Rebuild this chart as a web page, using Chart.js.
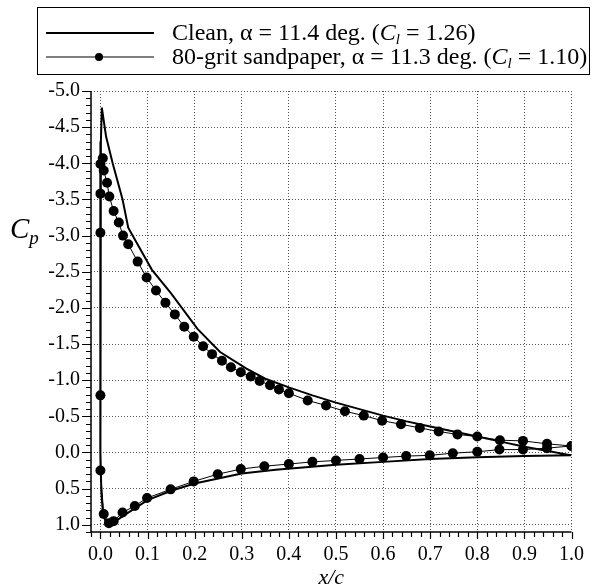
<!DOCTYPE html>
<html>
<head>
<meta charset="utf-8">
<script src="https://cdn.jsdelivr.net/npm/chart.js@4.4.1/dist/chart.umd.min.js"></script>
<style>
  html, body { margin: 0; padding: 0; background: #fff; }
  #wrap { width: 595px; height: 588px; }
</style>
</head>
<body>
<div id="wrap"><canvas id="cp"></canvas></div>
<script>
// ─── Data ─────────────────────────────────────────────────────────────────────

const X_TICKS = [0.0, 0.1, 0.2, 0.3, 0.4, 0.5, 0.6, 0.7, 0.8, 0.9, 1.0];
const Y_TICKS = [-5.0, -4.5, -4.0, -3.5, -3.0, -2.5, -2.0, -1.5, -1.0, -0.5, 0.0, 0.5, 1.0];

// clean airfoil: upper surface TE -> LE, then lower surface LE -> TE
const CLEAN_X  = [1.0, 0.95, 0.9, 0.85, 0.8, 0.75, 0.7, 0.65, 0.6, 0.55, 0.5, 0.45, 0.4, 0.35,
                  0.31, 0.254, 0.206, 0.15, 0.109, 0.059, 0.047, 0.026, 0.012, 0.003, 0.001,
                  0.0, 0.0, 0.002, 0.005, 0.01, 0.016, 0.03, 0.05, 0.1, 0.15, 0.2, 0.3, 0.372,
                  0.5, 0.6, 0.7, 0.8, 0.9, 1.0];
const CLEAN_CP = [0.04, -0.02, -0.08, -0.15, -0.22, -0.29, -0.36, -0.43, -0.51, -0.60, -0.69, -0.79, -0.90, -1.02,
                  -1.16, -1.39, -1.71, -2.20, -2.53, -3.11, -3.50, -4.00, -4.37, -4.77, -4.30,
                  -3.00, 0.00, 0.55, 0.82, 0.94, 1.00, 0.96, 0.87, 0.66, 0.53, 0.43, 0.29, 0.24,
                  0.17, 0.13, 0.09, 0.065, 0.05, 0.04];

// 80-grit sandpaper: same ordering
const GRIT_X  = [1.0, 0.948, 0.897, 0.848, 0.80, 0.758, 0.718, 0.678, 0.638, 0.598, 0.559, 0.519, 0.479, 0.44,
                 0.40, 0.379, 0.36, 0.338, 0.319, 0.298, 0.277, 0.258, 0.237, 0.218, 0.198, 0.178, 0.158,
                 0.138, 0.118, 0.098, 0.079, 0.059, 0.048, 0.039, 0.028, 0.019, 0.014, 0.007, 0.005,
                 0.0, 0.0, 0.0, 0.0, 0.0, 0.007, 0.018, 0.028, 0.047, 0.073, 0.099, 0.149, 0.198, 0.249,
                 0.298, 0.348, 0.40, 0.45, 0.50, 0.55, 0.60, 0.649, 0.699, 0.748, 0.80, 0.847, 0.897, 0.948, 1.0];
const GRIT_CP = [-0.09, -0.12, -0.16, -0.17, -0.22, -0.25, -0.29, -0.34, -0.39, -0.44, -0.51, -0.57, -0.65, -0.72,
                 -0.82, -0.87, -0.93, -0.99, -1.05, -1.11, -1.18, -1.27, -1.36, -1.47, -1.60, -1.74, -1.91,
                 -2.07, -2.24, -2.42, -2.64, -2.88, -3.00, -3.18, -3.34, -3.54, -3.73, -3.90, -4.07,
                 -3.99, -3.58, -3.04, -0.79, 0.25, 0.85, 0.98, 0.95, 0.83, 0.74, 0.63, 0.51, 0.40, 0.30,
                 0.23, 0.19, 0.16, 0.13, 0.11, 0.09, 0.07, 0.05, 0.04, 0.01, -0.01, -0.04, -0.04, -0.06, -0.09];

// ─── Styling ──────────────────────────────────────────────────────────────────

const SERIF = "'Liberation Serif','Times New Roman',serif";

const pts = (xs, ys) => xs.map((x, i) => ({ x, y: ys[i] }));

// legend rows: rich text parts
const LEGEND_ROWS = [
  { color: '#000', width: 2,   dot: false,
    parts: [['Clean, α = 11.4 deg. (', ''], ['C', 'i'], ['l', 'sub'], [' = 1.26)', '']] },
  { color: '#555', width: 1.5, dot: true,
    parts: [['80-grit sandpaper, α = 11.3 deg. (', ''], ['C', 'i'], ['l', 'sub'], [' = 1.10)', '']] },
];

function richText(ctx, parts, x, y, size) {
  for (const [txt, kind] of parts) {
    if (kind === 'i')        ctx.font = `italic ${size}px ${SERIF}`;
    else if (kind === 'sub') ctx.font = `italic ${Math.round(size * 0.62)}px ${SERIF}`;
    else                     ctx.font = `${size}px ${SERIF}`;
    ctx.fillText(txt, x, y + (kind === 'sub' ? size * 0.18 : 0));
    x += ctx.measureText(txt).width;
  }
  return x;
}

// ─── Plugin: axis lines, minor ticks, titles, legend box ─────────────────────

const decor = {
  id: 'decor',
  afterDraw(chart) {
    const { ctx, chartArea: a, scales: { x, y } } = chart;
    ctx.save();
    ctx.strokeStyle = '#000';
    ctx.fillStyle = '#000';

    // axis spines
    const xEnd = x.getPixelForValue(1.0);
    ctx.lineWidth = 1.5;
    ctx.beginPath();
    ctx.moveTo(a.left, a.top);
    ctx.lineTo(a.left, a.bottom);
    ctx.lineTo(xEnd, a.bottom);
    ctx.stroke();

    // ticks: y every 0.1 (major 0.5), x every 0.02 (major 0.1)
    ctx.lineWidth = 1.2;
    ctx.beginPath();
    for (let k = -50; k <= 11; k++) {
      const py = Math.round(y.getPixelForValue(k / 10)) + 0.5;
      const len = k % 5 === 0 ? 9 : 5;
      ctx.moveTo(a.left - len, py);
      ctx.lineTo(a.left, py);
    }
    for (let k = -1; k <= 50; k++) {
      const px = Math.round(x.getPixelForValue(k / 50)) + 0.5;
      const len = k % 5 === 0 ? 7 : 5;
      ctx.moveTo(px, a.bottom);
      ctx.lineTo(px, a.bottom + len);
    }
    ctx.stroke();

    // axis titles
    ctx.textAlign = 'left';
    ctx.textBaseline = 'alphabetic';
    ctx.font = `italic 29px ${SERIF}`;
    ctx.fillText('C', 10, 238);
    const cw = ctx.measureText('C').width;
    ctx.font = `italic 19px ${SERIF}`;
    ctx.fillText('p', 10 + cw, 244);

    ctx.font = `italic 22px ${SERIF}`;
    ctx.textAlign = 'center';
    ctx.fillText('x/c', (a.left + xEnd) / 2, 584);

    // legend box
    ctx.textAlign = 'left';
    ctx.lineWidth = 1;
    ctx.strokeRect(37.5, 7.5, 552, 67);
    LEGEND_ROWS.forEach((row, i) => {
      const ly = 33 + i * 24;
      ctx.strokeStyle = row.color;
      ctx.lineWidth = row.width;
      ctx.beginPath();
      ctx.moveTo(46, ly);
      ctx.lineTo(154, ly);
      ctx.stroke();
      if (row.dot) {
        ctx.beginPath();
        ctx.arc(99, ly, 4, 0, Math.PI * 2);
        ctx.fill();
      }
      richText(ctx, row.parts, 172, ly + 7, 24);
    });
    ctx.restore();
  },
};

// ─── Chart ────────────────────────────────────────────────────────────────────

new Chart(document.getElementById('cp'), {
  type: 'scatter',
  data: {
    datasets: [
      {
        label: 'Clean',
        data: pts(CLEAN_X, CLEAN_CP),
        showLine: true,
        borderColor: '#000',
        borderWidth: 2,
        pointRadius: 0,
        tension: 0,
      },
      {
        label: '80-grit sandpaper',
        data: pts(GRIT_X, GRIT_CP),
        showLine: true,
        borderColor: '#000',
        borderWidth: 1,
        backgroundColor: '#000',
        pointRadius: 5,
        pointBorderWidth: 0,
        tension: 0,
      },
    ],
  },
  options: {
    responsive: true,
    maintainAspectRatio: false,
    animation: false,
    layout: { padding: { top: 91, right: 13, left: 0, bottom: 0 } },
    plugins: { legend: { display: false }, tooltip: { enabled: false } },
    scales: {
      x: {
        type: 'linear',
        min: -0.02,
        max: 1.0,
        afterBuildTicks: s => { s.ticks = X_TICKS.map(v => ({ value: v })); },
        afterFit: s => { s.height = 56; },
        grid: { color: '#555', lineWidth: 1, drawTicks: false },
        border: { display: false, dash: [1, 2] },
        ticks: {
          padding: 11,
          color: '#000',
          maxRotation: 0,
          font: { family: SERIF, size: 20 },
          callback: v => v.toFixed(1),
        },
      },
      y: {
        type: 'linear',
        reverse: true,
        min: -5.0,
        max: 1.1,
        afterBuildTicks: s => { s.ticks = Y_TICKS.map(v => ({ value: v })); },
        afterFit: s => { s.width = 91; },
        grid: { color: '#555', lineWidth: 1, drawTicks: false },
        border: { display: false, dash: [1, 2] },
        ticks: {
          padding: 11,
          color: '#000',
          font: { family: SERIF, size: 20 },
          callback: v => v.toFixed(1),
        },
      },
    },
  },
  plugins: [decor],
});
</script>
</body>
</html>
